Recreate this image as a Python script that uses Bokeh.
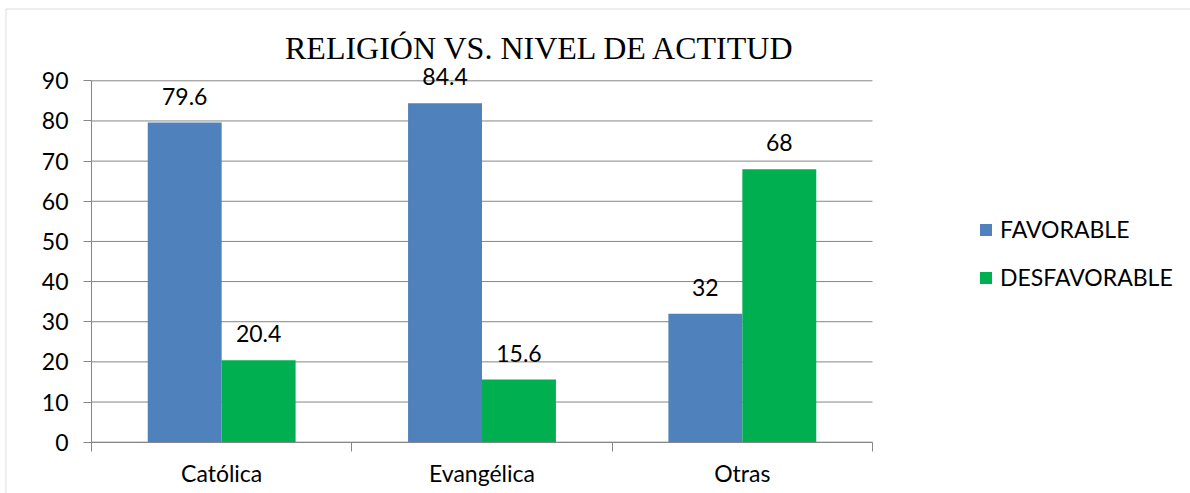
from bokeh.plotting import figure
from bokeh.models import (ColumnDataSource, Range1d, FixedTicker, BoxAnnotation,
                          LinearAxis, LabelSet, Label, Legend, LegendItem)
from bokeh.transform import dodge
from bokeh.core.properties import value
from bokeh.embed import file_html
from bokeh.resources import INLINE

# ---- data ----
categories = ["Católica", "Evangélica", "Otras"]
series = ["FAVORABLE", "DESFAVORABLE"]
favorable = [79.6, 84.4, 32]
desfavorable = [20.4, 15.6, 68]
y_ticks = [0, 10, 20, 30, 40, 50, 60, 70, 80, 90]
title_text = "RELIGIÓN VS. NIVEL DE ACTITUD"

FONT = "Lato"
GRID = "#868686"
BLUE = "#4F81BD"
GREEN = "#00B050"

# ---- layout (pixels) ----
W, H = 1190, 493
X0_PX = 91            # canvas x of the category-axis start
ZERO_PX = 441.7       # canvas y of value 0
PX_PER_Y = 361.4 / 90
PX_PER_CAT = 781 / 3

n = len(categories)
centers = [i + 0.5 for i in range(n)]
src = ColumnDataSource(dict(
    x=centers,
    fav=favorable,
    des=desfavorable,
    fav_txt=[f"{v:g}" for v in favorable],
    des_txt=[f"{v:g}" for v in desfavorable],
))

def xd(px):
    return (px - X0_PX) / PX_PER_CAT

def yd(py):
    return (ZERO_PX - py) / PX_PER_Y

p = figure(width=W, height=H, x_range=Range1d(xd(0), xd(W)), y_range=Range1d(yd(H), yd(0)),
           x_axis_type=None, output_backend="svg", toolbar_location=None,
           min_border_left=0, min_border_right=0, min_border_top=0, min_border_bottom=0)
p.outline_line_color = None
p.background_fill_color = "white"
p.border_fill_color = "white"
p.grid.visible = False

# chart-area border (top and left edges visible)
p.add_layout(BoxAnnotation(left=xd(5.5), right=xd(W + 20), top=yd(8.5), bottom=yd(H + 20),
                           fill_alpha=0, line_color="#8c8c8c", line_width=1))

# horizontal gridlines only across the category area
p.segment(x0=0, x1=n, y0=y_ticks, y1=y_ticks, line_color=GRID, line_width=1)

BW = 0.284
r_fav = p.vbar(x=dodge("x", -BW / 2), top="fav", width=BW, source=src,
               fill_color=BLUE, line_color=None)
r_des = p.vbar(x=dodge("x", BW / 2), top="des", width=BW, source=src,
               fill_color=GREEN, line_color=None)

for col, txt, off in (("fav", "fav_txt", -BW / 2), ("des", "des_txt", BW / 2)):
    p.add_layout(LabelSet(x=dodge("x", off), y=col, text=txt, source=src,
                          y_offset=18, text_align="center", text_baseline="alphabetic",
                          text_font=value(FONT), text_font_size="23px", text_color="black"))

# y axis drawn at x = 0
yax = p.yaxis[0]
yax.fixed_location = 0
yax.ticker = FixedTicker(ticks=y_ticks)
yax.bounds = (y_ticks[0], y_ticks[-1])
yax.axis_line_color = GRID
yax.major_tick_line_color = GRID
yax.major_tick_out = 8
yax.major_tick_in = 0
yax.minor_tick_line_color = None
yax.major_label_standoff = 15
yax.major_label_text_font = FONT
yax.major_label_text_font_size = "23px"
yax.major_label_text_color = "black"

# x axis: boundary ticks + category labels, drawn at value 0
bounds = list(range(n + 1))
bax = LinearAxis(fixed_location=0, bounds=(0, n), ticker=FixedTicker(ticks=bounds),
                 axis_line_color=GRID, major_tick_line_color=GRID, major_tick_out=9, major_tick_in=0,
                 minor_tick_line_color=None, major_label_text_font_size="0px", major_label_standoff=0,
                 major_label_overrides={b: "" for b in bounds})
p.add_layout(bax, "below")
cax = LinearAxis(fixed_location=0, ticker=FixedTicker(ticks=centers),
                 major_label_overrides={c: name for c, name in zip(centers, categories)},
                 axis_line_color=None, major_tick_line_color=None, major_tick_out=0,
                 major_tick_in=0, minor_tick_line_color=None, major_label_standoff=17,
                 major_label_text_font=FONT, major_label_text_font_size="23px",
                 major_label_text_color="black")
p.add_layout(cax, "below")

# title (screen units measured from frame bottom-left = canvas bottom-left)
p.add_layout(Label(x=540, y=H - 47, x_units="screen", y_units="screen", text=title_text,
                   text_align="center", text_baseline="alphabetic",
                   text_font="Liberation Serif", text_font_size="32px", text_color="black"))

legend = Legend(items=[LegendItem(label=series[0], renderers=[r_fav]),
                       LegendItem(label=series[1], renderers=[r_des])],
                location=(978, H - 292), orientation="vertical",
                glyph_width=15, glyph_height=15, label_height=30, label_standoff=7, spacing=18,
                padding=0, margin=0, border_line_color=None, background_fill_alpha=0,
                label_text_font=FONT, label_text_font_size="23px", label_text_color="black")
p.add_layout(legend)

open("out.html", "w").write(file_html(p, INLINE))
